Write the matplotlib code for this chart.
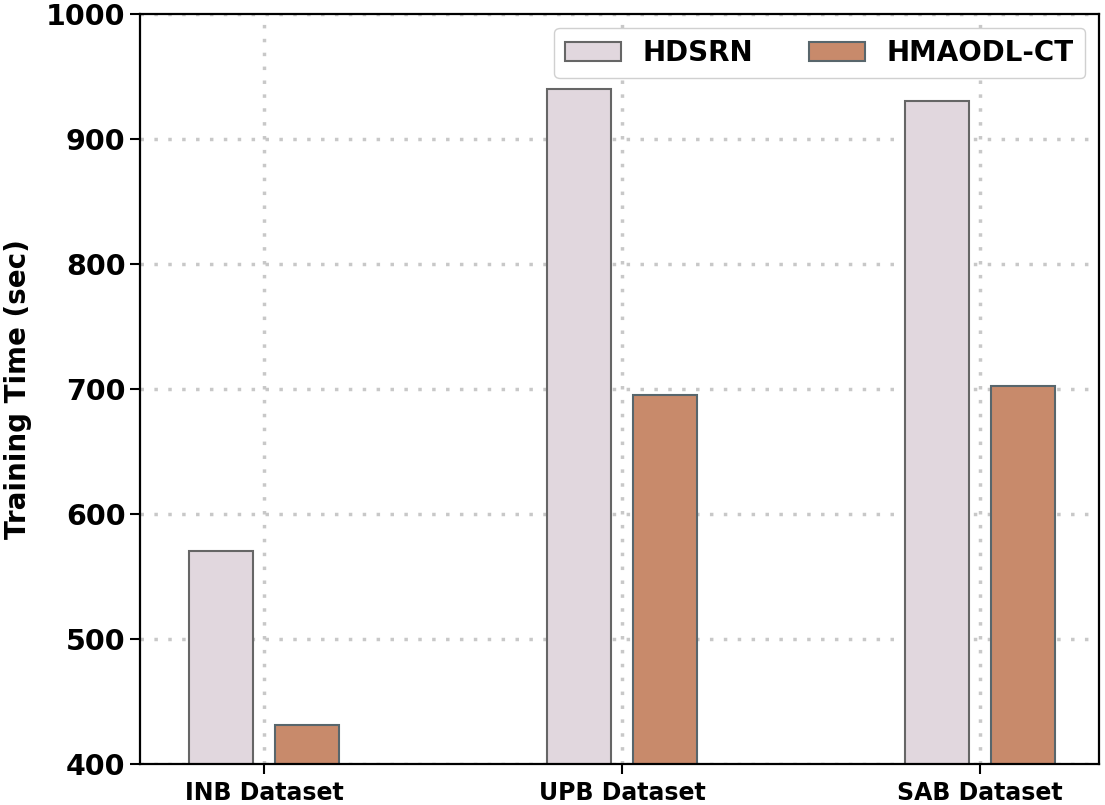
import matplotlib.pyplot as plt
import numpy as np

# datos
datasets = ["INB Dataset", "UPB Dataset", "SAB Dataset"]
hdsrn = [570, 940, 930]
hmaodl_ct = [431, 695, 702]
y_ticks = [400, 500, 600, 700, 800, 900, 1000]

x = np.arange(len(datasets))
ancho = 0.18

fig = plt.figure(figsize=(11.05, 8.05), dpi=100)
ax = fig.add_axes([140 / 1105, 1 - 764 / 805, (1099 - 140) / 1105, (764 - 14) / 805])

ax.bar(x - 0.12, hdsrn, ancho, color="#e1d7de", edgecolor="#666666", linewidth=1.5,
       label="HDSRN", zorder=2)
ax.bar(x + 0.12, hmaodl_ct, ancho, color="#c88a6b", edgecolor="#58666c", linewidth=1.5,
       label="HMAODL-CT", zorder=2)

ax.set_xlim(-0.346, 2.332)
ax.set_ylim(400, 1000)
ax.set_xticks(x)
ax.set_xticklabels(datasets, fontsize=17, fontweight="bold")
ax.set_yticks(y_ticks)
ax.set_yticklabels([str(v) for v in y_ticks], fontsize=20.5, fontweight="bold")
ax.set_ylabel("Training Time (sec)", fontsize=20, fontweight="bold", labelpad=10)

ax.tick_params(axis="both", length=7, width=1.5)
ax.tick_params(axis="x", pad=5)
for s in ax.spines.values():
    s.set_linewidth(1.6)
    s.set_color("black")

ax.grid(True, color="#c8c8c8", linestyle=(0, (1, 3)), linewidth=2.5, zorder=0)
ax.set_axisbelow(True)

leg = ax.legend(loc="upper right", ncol=2, prop={"size": 20, "weight": "bold"},
                fancybox=True, framealpha=1, edgecolor="#d0d0d0")

fig.savefig("out.png", dpi=100)
